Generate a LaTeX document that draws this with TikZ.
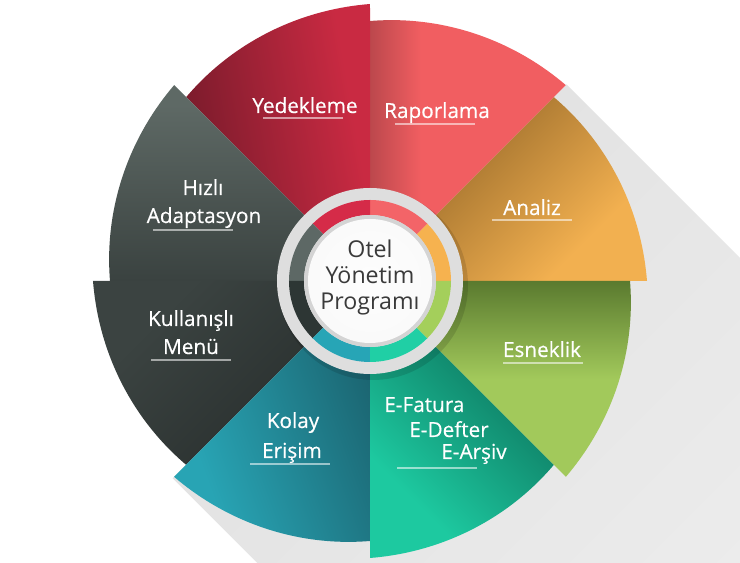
\documentclass[tikz,border=0pt]{standalone}
\usepackage{fontspec}
\setmainfont{Open Sans}
\newfontfamily\lblfont[FakeBold=0.4]{Open Sans}
\usepackage{tikz}
\usetikzlibrary{calc}
% sector colours
\definecolor{anaM}{HTML}{F2B050}\definecolor{anaD}{HTML}{8B6024}
\definecolor{rapM}{HTML}{F15E61}\definecolor{rapD}{HTML}{B8464B}
\definecolor{yedM}{HTML}{C92A42}\definecolor{yedD}{HTML}{751A2A}
\definecolor{hizM}{HTML}{5E6965}\definecolor{hizD}{HTML}{3A4240}
\definecolor{kulM}{HTML}{3B4341}\definecolor{kulD}{HTML}{262C2B}
\definecolor{kolM}{HTML}{28A4B4}\definecolor{kolD}{HTML}{1B6470}
\definecolor{efaM}{HTML}{1DC9A0}\definecolor{efaD}{HTML}{0A6450}
\definecolor{esnM}{HTML}{A2C95B}\definecolor{esnD}{HTML}{5A7A2F}
% ring colours
\definecolor{ryed}{HTML}{D52B48}\definecolor{rrap}{HTML}{F36468}
\definecolor{rana}{HTML}{F6B24F}\definecolor{resn}{HTML}{A4CF5B}
\definecolor{refa}{HTML}{20CFA5}\definecolor{rkol}{HTML}{27A5B6}
\definecolor{rkul}{HTML}{2D3634}\definecolor{rhiz}{HTML}{5D6865}
\definecolor{ringG}{HTML}{DEDEDE}\definecolor{ringI}{HTML}{D4D4D4}
\definecolor{shdA}{HTML}{E2E2E2}\definecolor{shdB}{HTML}{ECECEC}\definecolor{shdC}{HTML}{F7F7F7}
\definecolor{ctxt}{HTML}{3A3A3A}
\colorlet{secM}{white}\colorlet{secD}{black}
% sector shadings: dark towards the top, main colour below
\pgfdeclareverticalshading[secM,secD]{secfull}{100bp}{color(0bp)=(secM); color(30bp)=(secM); color(75bp)=(secD); color(100bp)=(secD)}
\pgfdeclareverticalshading[secM,secD]{sechalf}{100bp}{color(0bp)=(secM); color(50bp)=(secM); color(75bp)=(secD); color(100bp)=(secD)}
\pgfdeclareverticalshading[secM,secD]{secedge}{100bp}{color(0bp)=(secM); color(62bp)=(secM); color(76bp)=(secD); color(100bp)=(secD)}
\tikzset{
  lbl/.style={text=white, font=\lblfont\fontsize{11.8}{14}\selectfont, anchor=base, inner sep=0pt},
  uline/.style={white, opacity=0.55, line width=0.9pt},
}

\begin{document}
\begin{tikzpicture}[x=0.02cm, y=0.02cm]
 %frame
   \useasboundingbox (-370,-282) rectangle (370,281);
   \fill[white] (-370,-282) rectangle (370,281);
 %long shadow
   \shade[top color=shdA, middle color=shdB, bottom color=shdC, shading angle=45]
     (45:278) -- (896.6,-503.4) -- (502.7,-897.3) -- (225:279) -- cycle;
 %sectors
   \foreach \a/\cm/\cd/\sh/\sa in {0/anaM/anaD/secfull/45, 45/rapM/rapD/secedge/90,
       90/yedM/yedD/secfull/100, 135/hizM/hizD/secfull/180, 180/kulM/kulD/secfull/225,
       225/kolM/kolD/secfull/-70, 270/efaM/efaD/secfull/-45, 315/esnM/esnD/sechalf/0}
   {
     \pgfmathsetmacro\b{\a+45}
     \colorlet{secM}{\cm}\colorlet{secD}{\cd}
     \shade[shading=\sh, shading angle=\sa]
       (0,0) -- plot[domain=\a:\b, samples=40] (\x:{277-17*(\x-\a)/45}) -- cycle;
   }
 %centre rings
   \fill[black, opacity=0.12] (3,-4) circle (95);
   \fill[ringG] (0,0) circle (93);
   \foreach \a/\cr in {0/rana, 45/rrap, 90/ryed, 135/rhiz, 180/rkul, 225/rkol, 270/refa, 315/resn}
   {
     \pgfmathsetmacro\b{\a+45}
     \fill[\cr] (\a:81) arc[start angle=\a, end angle=\b, radius=81]
       -- (\b:66) arc[start angle=\b, end angle=\a, radius=66] -- cycle;
   }
   \fill[ringI] (0,0) circle (66);
   \shade[inner color=white!95!ringG, outer color=white!88!ringI] (0,0) circle (62);
   \node[text=ctxt, align=center, font=\fontsize{13.2}{14.8}\selectfont] (otel) at (0,4) {Otel\\Yönetim\\Programı};
 %labels
   \node[lbl] (yed) at (-65,168) {Yedekleme};
   \node[lbl] (rap) at (67,163) {Raporlama};
   \node[lbl] (ana) at (162,66) {Analiz};
   \node[lbl] (esn) at (172,-76) {Esneklik};
   \node[lbl, anchor=base west] (efa1) at (14,-131) {E-Fatura};
   \node[lbl, anchor=base west] (efa2) at (39,-156) {E-Defter};
   \node[lbl, anchor=base west] (efa3) at (71,-178) {E-Arşiv};
   \node[lbl] (kol1) at (-77,-147) {Kolay};
   \node[lbl] (kol2) at (-78,-177) {Erişim};
   \node[lbl] (kul1) at (-179,-45) {Kullanışlı};
   \node[lbl] (kul2) at (-179,-73) {Menü};
   \node[lbl] (hiz1) at (-167,86) {Hızlı};
   \node[lbl] (hiz2) at (-166,58) {Adaptasyon};
 %underlines
   \draw[uline] ($(yed.base)+(-42,-5)$) -- ++(80,0);
   \draw[uline] ($(rap.base)+(-42,-6)$) -- ++(80,0);
   \draw[uline] ($(ana.base)+(-40,-5)$) -- ++(80,0);
   \draw[uline] ($(esn.base)+(-39,-6)$) -- ++(80,0);
   \draw[uline] ($(efa3.base west)+(-44,-9)$) -- ++(80,0);
   \draw[uline] ($(kol2.base)+(-42,-6)$) -- ++(80,0);
   \draw[uline] ($(kul2.base)+(-40,-6)$) -- ++(80,0);
   \draw[uline] ($(hiz2.base)+(-51,-7)$) -- ++(80,0);
\end{tikzpicture}
\end{document}
